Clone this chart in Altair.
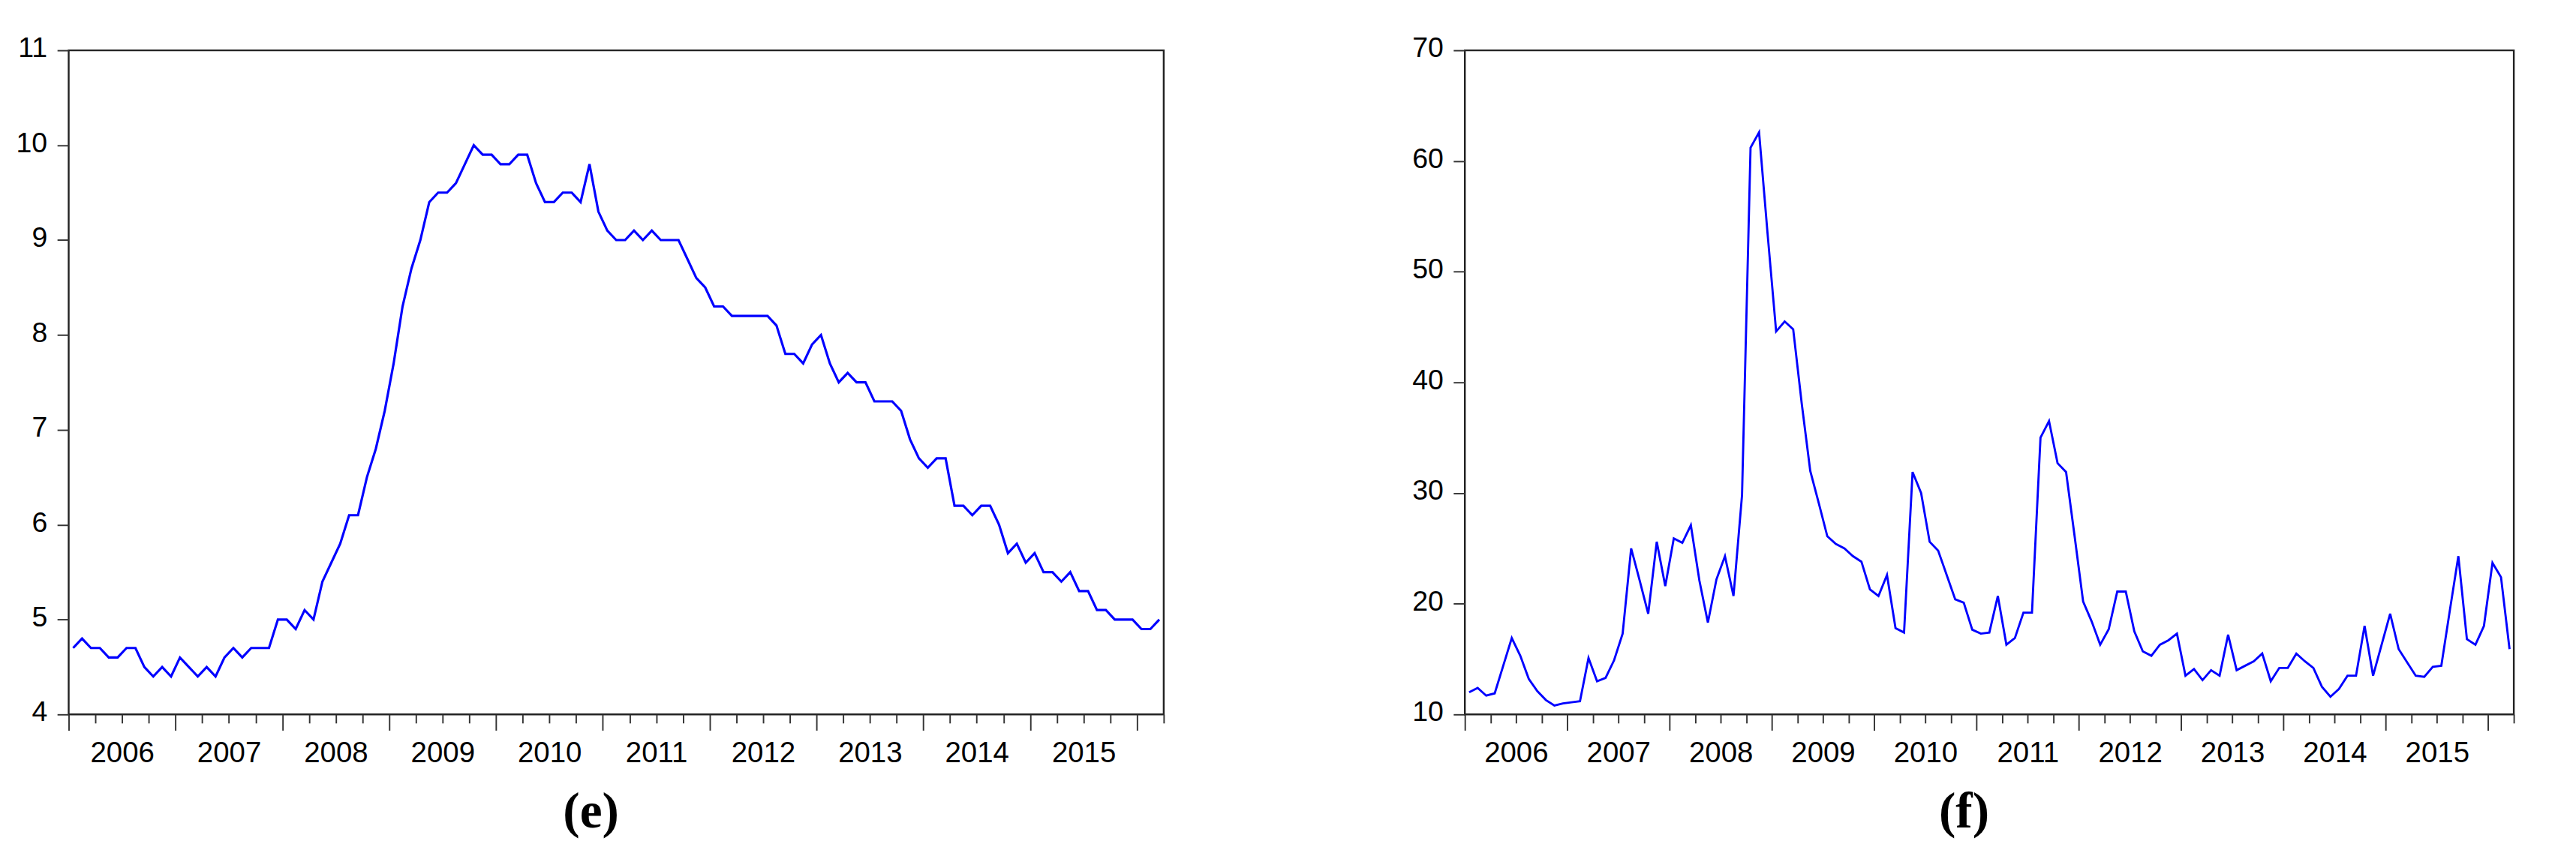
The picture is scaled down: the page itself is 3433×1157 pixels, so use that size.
import altair as alt
import pandas as pd

START_YEAR = 2006
# monthly observations 2006M01 .. 2016M03 (123 months)
E_VALUES = [
    4.7, 4.8, 4.7, 4.7, 4.6, 4.6, 4.7, 4.7, 4.5, 4.4, 4.5, 4.4,
    4.6, 4.5, 4.4, 4.5, 4.4, 4.6, 4.7, 4.6, 4.7, 4.7, 4.7, 5.0,
    5.0, 4.9, 5.1, 5.0, 5.4, 5.6, 5.8, 6.1, 6.1, 6.5, 6.8, 7.2,
    7.7, 8.3, 8.7, 9.0, 9.4, 9.5, 9.5, 9.6, 9.8, 10.0, 9.9, 9.9,
    9.8, 9.8, 9.9, 9.9, 9.6, 9.4, 9.4, 9.5, 9.5, 9.4, 9.8, 9.3,
    9.1, 9.0, 9.0, 9.1, 9.0, 9.1, 9.0, 9.0, 9.0, 8.8, 8.6, 8.5,
    8.3, 8.3, 8.2, 8.2, 8.2, 8.2, 8.2, 8.1, 7.8, 7.8, 7.7, 7.9,
    8.0, 7.7, 7.5, 7.6, 7.5, 7.5, 7.3, 7.3, 7.3, 7.2, 6.9, 6.7,
    6.6, 6.7, 6.7, 6.2, 6.2, 6.1, 6.2, 6.2, 6.0, 5.7, 5.8, 5.6,
    5.7, 5.5, 5.5, 5.4, 5.5, 5.3, 5.3, 5.1, 5.1, 5.0, 5.0, 5.0,
    4.9, 4.9, 5.0,
]
F_VALUES = [
    12.0, 12.4, 11.7, 11.9, 14.4, 16.9, 15.3, 13.2, 12.1, 11.3, 10.8, 11.0,
    11.1, 11.2, 15.1, 13.0, 13.3, 14.9, 17.3, 25.0, 22.1, 19.1, 25.6, 21.6,
    25.9, 25.5, 27.1, 22.1, 18.3, 22.2, 24.3, 20.7, 29.8, 61.2, 62.6, 53.4,
    44.6, 45.5, 44.8, 38.1, 32.0, 29.1, 26.1, 25.4, 25.0, 24.3, 23.8, 21.3,
    20.7, 22.6, 17.8, 17.4, 31.9, 30.0, 25.6, 24.8, 22.6, 20.4, 20.1, 17.65,
    17.3, 17.4, 20.7, 16.3, 16.9, 19.2, 19.2, 35.0, 36.5, 32.7, 31.9, 26.1,
    20.2, 18.4, 16.3, 17.7, 21.1, 21.1, 17.5, 15.7, 15.3, 16.3, 16.7, 17.3,
    13.5, 14.1, 13.1, 14.0, 13.5, 17.2, 14.0, 14.4, 14.8, 15.5, 13.0, 14.2,
    14.2, 15.5, 14.8, 14.2, 12.5, 11.6, 12.3, 13.5, 13.5, 18.0, 13.5, 16.3,
    19.1, 15.9, 14.7, 13.5, 13.4, 14.3, 14.4, 19.4, 24.3, 16.8, 16.3, 18.0,
    23.7, 22.4, 15.9,
]
E_TICKS = [4, 5, 6, 7, 8, 9, 10, 11]
F_TICKS = [10, 20, 30, 40, 50, 60, 70]
PANEL_LABELS = ["(e)", "(f)"]

N = len(E_VALUES)
QUARTER_BOUNDS = [3 * k - 0.5 for k in range(N // 3 + 1)]
SANS = "Liberation Sans"


def panel(values, yticks, width, height, label, stroke_w):
    df = pd.DataFrame({"t": list(range(len(values))), "v": values})
    half_year = width / N * 6
    x_axis = alt.Axis(
        values=QUARTER_BOUNDS,
        domain=False,
        grid=False,
        ticks=True,
        tickSize={"condition": {"test": "(datum.value + 0.5) % 12 == 0", "value": 22}, "value": 12},
        tickColor="#333333",
        tickWidth=2,
        labelExpr=f"(datum.value + 0.5) % 12 == 0 && datum.value < {N - 4} ? toString({START_YEAR} + (datum.value + 0.5) / 12) : ''",
        labelOffset=half_year,
        labelPadding=12,
        labelFont=SANS,
        labelFontSize=40,
        labelColor="#000000",
        labelOverlap=False,
        labelBound=False,
        labelFlush=False,
        title=None,
    )
    y_axis = alt.Axis(
        values=yticks,
        domain=False,
        grid=False,
        tickSize=16,
        tickColor="#333333",
        tickWidth=2,
        labelPadding=14,
        labelFont=SANS,
        labelFontSize=39,
        labelColor="#000000",
        labelOffset=-3,
        title=None,
    )
    return (
        alt.Chart(df)
        .mark_line(color="#0000FF", strokeWidth=stroke_w)
        .encode(
            x=alt.X("t:Q", scale=alt.Scale(domain=[-0.5, N - 0.5], nice=False, zero=False), axis=x_axis),
            y=alt.Y("v:Q", scale=alt.Scale(domain=[yticks[0], yticks[-1]], nice=False, zero=False), axis=y_axis),
        )
        .properties(
            width=width,
            height=height,
            title=alt.TitleParams(
                label,
                orient="bottom",
                anchor="middle",
                font="Liberation Serif",
                fontSize=70,
                fontWeight="bold",
                color="#000000",
                offset=28,
                dx=-35,
            ),
        )
    )


left = panel(E_VALUES, E_TICKS, 1520, 922, PANEL_LABELS[0], 3.3)
right = panel(F_VALUES, F_TICKS, 1456, 922, PANEL_LABELS[1], 3.0)

chart = (
    alt.hconcat(left, right, spacing=267)
    .properties(padding={"left": 12, "top": 14, "right": 5, "bottom": 0}, background="white")
    .configure_view(stroke="#222222", strokeWidth=2.5)
)

chart.save("out.html", embed_options={"renderer": "svg", "actions": False})
